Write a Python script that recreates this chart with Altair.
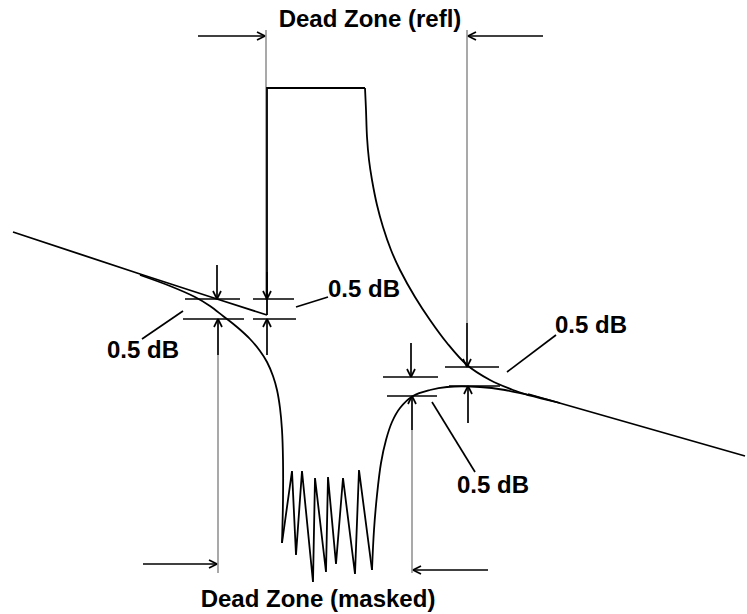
import altair as alt
import pandas as pd
import numpy as np

W, H = 747, 614

# ---- curves (diagram coordinates, y grows downward) ----
left_line_x = [13, 140, 217, 267]
left_line_y = [232, 274, 299, 315]

pulse_x = [267, 267, 365]
pulse_y = [315, 88, 88]

decay_x = [365, 366, 367, 369, 372, 377, 383, 391, 400, 415, 430, 447, 467, 490, 513, 528]
decay_y = [88, 110, 137, 160, 180, 205, 227, 250, 270, 297, 320, 343, 365, 380, 390, 395]

right_line_x = [528, 745]
right_line_y = [394, 456]

masked_x = [140, 170, 195, 210, 223, 237, 250, 260, 267, 273, 277, 280, 282, 283, 283, 282]
masked_y = [275, 286, 297, 306, 316, 327, 339, 351, 362, 376, 390, 408, 430, 460, 500, 543]

noise_x = [282, 292, 296, 302, 313, 315, 326, 328, 336, 343, 355, 359, 372]
noise_y = [543, 471, 555, 471, 582, 478, 572, 477, 564, 478, 574, 470, 570]

recovery_x = [372, 374, 377, 381, 386, 392, 400, 413, 430, 447, 480, 505, 528, 560]
recovery_y = [570, 530, 495, 463, 440, 422, 408, 396, 390, 387, 387, 390, 395, 403]

# ---- grey guide lines: x, y_start, y_end ----
grey_x = [266, 467, 218, 412]
grey_y1 = [30, 30, 355, 430]
grey_y2 = [300, 323, 573, 573]

# ---- 0.5 dB tick marks: x1, x2, y ----
tick_x1 = [185, 183, 253, 253, 445, 449, 383, 387]
tick_x2 = [240, 244, 294, 296, 499, 500, 438, 437]
tick_y = [299, 319, 299, 319, 367, 386, 377, 396]

# ---- leader lines ----
lead_x1 = [142, 296, 507, 432]
lead_y1 = [339, 307, 372, 402]
lead_x2 = [183, 328, 556, 475]
lead_y2 = [311, 297, 335, 472]

# ---- arrows: tail -> tip ----
arr_tx = [217, 218, 267, 267, 467, 468, 411, 412, 198, 543, 143, 488]
arr_ty = [265, 355, 272, 355, 323, 423, 343, 430, 36, 36, 564, 570]
arr_hx = [217, 218, 267, 267, 467, 468, 411, 412, 265, 468, 217, 413]
arr_hy = [299, 319, 299, 319, 367, 386, 377, 396, 36, 36, 564, 570]

# ---- labels ----
label_text = ["Dead Zone (refl)", "Dead Zone (masked)", "0.5 dB", "0.5 dB", "0.5 dB", "0.5 dB"]
label_x = [370, 318, 107, 328, 555, 457]
label_y = [27, 607, 358, 297, 333, 493]
label_align = ["center", "center", "left", "left", "left", "left"]

# ---------- build tables ----------
def poly(name, xs, ys):
    return pd.DataFrame({"series": name, "i": range(len(xs)), "x": xs, "y": ys})

lin_df = pd.concat([
    poly("left", left_line_x, left_line_y),
    poly("pulse", pulse_x, pulse_y),
    poly("right", right_line_x, right_line_y),
    poly("noise", noise_x, noise_y),
])
smooth_df = pd.concat([
    poly("decay", decay_x, decay_y),
    poly("masked", masked_x, masked_y),
    poly("recovery", recovery_x, recovery_y),
])

segs = []
for x, a, b in zip(grey_x, grey_y1, grey_y2):
    segs.append(dict(x=x, y=a, x2=x, y2=b, c="#9a9a9a"))
for a, b, y in zip(tick_x1, tick_x2, tick_y):
    segs.append(dict(x=a, y=y, x2=b, y2=y, c="#000000"))
for a, b, c, d in zip(lead_x1, lead_y1, lead_x2, lead_y2):
    segs.append(dict(x=a, y=b, x2=c, y2=d, c="#000000"))
L, Wd = 8.0, 4.0
for tx, ty, hx, hy in zip(arr_tx, arr_ty, arr_hx, arr_hy):
    segs.append(dict(x=tx, y=ty, x2=hx, y2=hy, c="#000000"))
    d = np.array([hx - tx, hy - ty], float)
    d /= np.linalg.norm(d)
    n = np.array([-d[1], d[0]])
    for s in (1, -1):
        p = np.array([hx, hy]) - L * d + s * Wd * n
        segs.append(dict(x=float(p[0]), y=float(p[1]), x2=hx, y2=hy, c="#000000"))
seg_df = pd.DataFrame(segs)

lab_df = pd.DataFrame({"t": label_text, "x": label_x, "y": label_y, "a": label_align})

xs = alt.Scale(domain=[0, W], nice=False, zero=False)
ys = alt.Scale(domain=[0, H], nice=False, zero=False, reverse=True)

rules = alt.Chart(seg_df).mark_rule(strokeWidth=1.7).encode(
    x=alt.X("x:Q", scale=xs, axis=None),
    y=alt.Y("y:Q", scale=ys, axis=None),
    x2="x2:Q", y2="y2:Q",
    color=alt.Color("c:N", scale=None),
)

lines = alt.Chart(lin_df).mark_line(color="black", strokeWidth=1.8, interpolate="linear").encode(
    x=alt.X("x:Q", scale=xs, axis=None),
    y=alt.Y("y:Q", scale=ys, axis=None),
    detail="series:N", order="i:Q",
)

smooth = alt.Chart(smooth_df).mark_line(color="black", strokeWidth=1.8, interpolate="catmull-rom").encode(
    x=alt.X("x:Q", scale=xs, axis=None),
    y=alt.Y("y:Q", scale=ys, axis=None),
    detail="series:N", order="i:Q",
)

def texts(align):
    return alt.Chart(lab_df[lab_df.a == align]).mark_text(
        font="Liberation Sans", fontWeight="bold", fontSize=24,
        align=align, baseline="alphabetic", color="black",
    ).encode(
        x=alt.X("x:Q", scale=xs, axis=None),
        y=alt.Y("y:Q", scale=ys, axis=None),
        text="t:N",
    )

chart = alt.layer(rules, lines, smooth, texts("center"), texts("left")).properties(
    width=W, height=H, autosize=alt.AutoSizeParams(type="none"), padding=0,
    background="white",
).configure_view(stroke=None)

chart.save("out.html", embed_options={"renderer": "svg", "actions": False})
